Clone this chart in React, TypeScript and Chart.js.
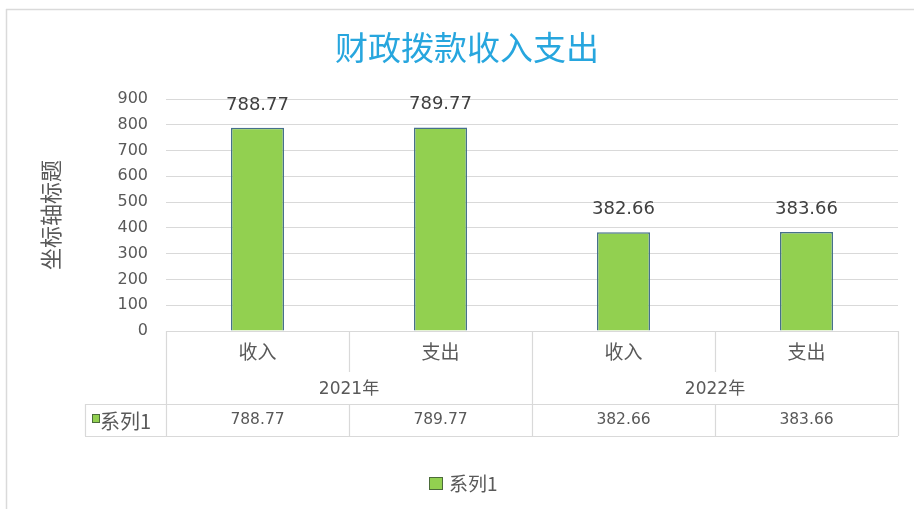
import React, { useEffect, useRef } from 'react';
import { Chart, registerables } from 'chart.js';

Chart.register(...registerables);

const TITLE = '财政拨款收入支出';
const Y_TITLE = '坐标轴标题';
const CATEGORIES = ['收入', '支出', '收入', '支出'];
const YEARS = ['2021年', '2022年'];
const SERIES_NAME = '系列1';
const VALUES = [788.77, 789.77, 382.66, 383.66];
const Y_MIN = 0;
const Y_MAX = 900;
const Y_STEP = 100;

const CJK = "'Noto Sans CJK SC', sans-serif";
const NUM = "'DejaVu Sans', 'Noto Sans CJK SC', sans-serif";
const TEXT = '#595959';
const LINE = '#d9d9d9';
const GREEN = '#92D050';
const BAR_BORDER = '#46708C';

const extras = {
  id: 'excelExtras',
  beforeDraw(chart: any) {
    const { ctx, width, height } = chart;
    ctx.save();
    ctx.fillStyle = '#ffffff';
    ctx.fillRect(0, 0, width, height);
    ctx.strokeStyle = '#dadada';
    ctx.lineWidth = 1.5;
    ctx.beginPath();
    ctx.moveTo(6, 9.5);
    ctx.lineTo(width, 9.5);
    ctx.moveTo(6.5, 9);
    ctx.lineTo(6.5, height);
    ctx.stroke();
    // title
    ctx.fillStyle = '#27A6DE';
    ctx.font = `33px ${CJK}`;
    ctx.textAlign = 'center';
    ctx.textBaseline = 'middle';
    ctx.fillText(TITLE, 467, 47);
    ctx.restore();
  },
  afterDatasetsDraw(chart: any) {
    const { ctx } = chart;
    const meta = chart.getDatasetMeta(0);
    ctx.save();
    ctx.fillStyle = '#404040';
    ctx.font = `18px ${NUM}`;
    ctx.textAlign = 'center';
    ctx.textBaseline = 'alphabetic';
    meta.data.forEach((bar: any, i: number) => {
      ctx.fillText(VALUES[i].toFixed(2), bar.x, bar.y - 18);
    });
    ctx.restore();
  },
  afterDraw(chart: any) {
    const { ctx, chartArea, scales } = chart;
    const xs = scales.x;
    const L = chartArea.left;
    const R = chartArea.right;
    const T = chartArea.bottom;
    const n = CATEGORIES.length;
    const w = (R - L) / n;
    const subBottom = T + 41;
    const rowTop = T + 73;
    const rowBottom = T + 105;
    const boxLeft = 85;

    ctx.save();
    ctx.strokeStyle = LINE;
    ctx.lineWidth = 1.2;
    ctx.beginPath();
    ctx.moveTo(L, T + 0.5);
    ctx.lineTo(R, T + 0.5);
    ctx.moveTo(boxLeft, rowTop + 0.5);
    ctx.lineTo(R, rowTop + 0.5);
    ctx.moveTo(boxLeft, rowBottom + 0.5);
    ctx.lineTo(R, rowBottom + 0.5);
    ctx.moveTo(boxLeft + 0.5, rowTop);
    ctx.lineTo(boxLeft + 0.5, rowBottom);
    for (let i = 0; i <= n; i++) {
      const x = Math.round(L + i * w) + 0.5;
      if (i % 2 === 0) {
        ctx.moveTo(x, T);
        ctx.lineTo(x, rowBottom);
      } else {
        ctx.moveTo(x, T);
        ctx.lineTo(x, subBottom);
        ctx.moveTo(x, rowTop);
        ctx.lineTo(x, rowBottom);
      }
    }
    ctx.stroke();

    ctx.fillStyle = TEXT;
    ctx.textAlign = 'center';
    ctx.textBaseline = 'middle';
    ctx.font = `19px ${CJK}`;
    CATEGORIES.forEach((c, i) => {
      ctx.fillText(c, xs.getPixelForValue(i), T + 21);
    });
    ctx.font = `17px ${NUM}`;
    YEARS.forEach((y, g) => {
      const cx = (xs.getPixelForValue(2 * g) + xs.getPixelForValue(2 * g + 1)) / 2;
      ctx.fillText(y, cx, T + 59);
    });
    ctx.font = `15.5px ${NUM}`;
    VALUES.forEach((v, i) => {
      ctx.fillText(v.toFixed(2), xs.getPixelForValue(i), T + 89);
    });

    // series key in table
    ctx.fillStyle = GREEN;
    ctx.fillRect(92, rowTop + 10, 7, 8);
    ctx.strokeStyle = '#4b6b3a';
    ctx.lineWidth = 1;
    ctx.strokeRect(92.5, rowTop + 10.5, 7, 8);
    ctx.fillStyle = TEXT;
    ctx.textAlign = 'left';
    ctx.font = `20px ${CJK}`;
    ctx.fillText(SERIES_NAME, 100, (rowTop + rowBottom) / 2 + 1);

    // legend
    const ly = 484;
    ctx.fillStyle = GREEN;
    ctx.fillRect(429, ly - 7, 14, 13);
    ctx.strokeStyle = '#4b6b3a';
    ctx.strokeRect(429.5, ly - 6.5, 13, 12);
    ctx.fillStyle = TEXT;
    ctx.font = `19px ${CJK}`;
    ctx.fillText(SERIES_NAME, 449, ly);
    ctx.restore();
  },
};

export default function App() {
  const ref = useRef<HTMLCanvasElement>(null);
  useEffect(() => {
    if (!ref.current) return;
    const chart = new Chart(ref.current, {
      type: 'bar',
      data: {
        labels: CATEGORIES,
        datasets: [
          {
            label: SERIES_NAME,
            data: VALUES,
            backgroundColor: GREEN,
            borderColor: BAR_BORDER,
            borderWidth: 1.5,
            borderSkipped: 'start',
            barPercentage: 0.29,
            categoryPercentage: 1,
          },
        ],
      },
      options: {
        responsive: false,
        animation: false,
        layout: { padding: { left: 0, right: 16, top: 99, bottom: 0 } },
        plugins: {
          legend: { display: false },
          tooltip: { enabled: false },
          title: { display: false },
        },
        scales: {
          x: {
            grid: { display: false },
            border: { display: false },
            ticks: { display: false },
            afterFit: (s: any) => {
              s.height = 178;
            },
          },
          y: {
            min: Y_MIN,
            max: Y_MAX,
            grid: { color: LINE, lineWidth: 1, drawTicks: false },
            border: { display: false },
            ticks: {
              stepSize: Y_STEP,
              padding: 18,
              color: TEXT,
              font: { family: NUM, size: 16 },
            },
            title: {
              display: true,
              text: Y_TITLE,
              color: TEXT,
              font: { family: CJK, size: 22, lineHeight: 1.2 },
              padding: { top: 37, bottom: 0 },
            },
            afterFit: (s: any) => {
              s.width = 166;
            },
          },
        },
      },
      plugins: [extras],
    });
    return () => chart.destroy();
  }, []);
  return (
    <div style={{ position: 'absolute', left: 0, top: 0, width: 914, height: 509 }}>
      <canvas ref={ref} width={914} height={509} />
    </div>
  );
}
